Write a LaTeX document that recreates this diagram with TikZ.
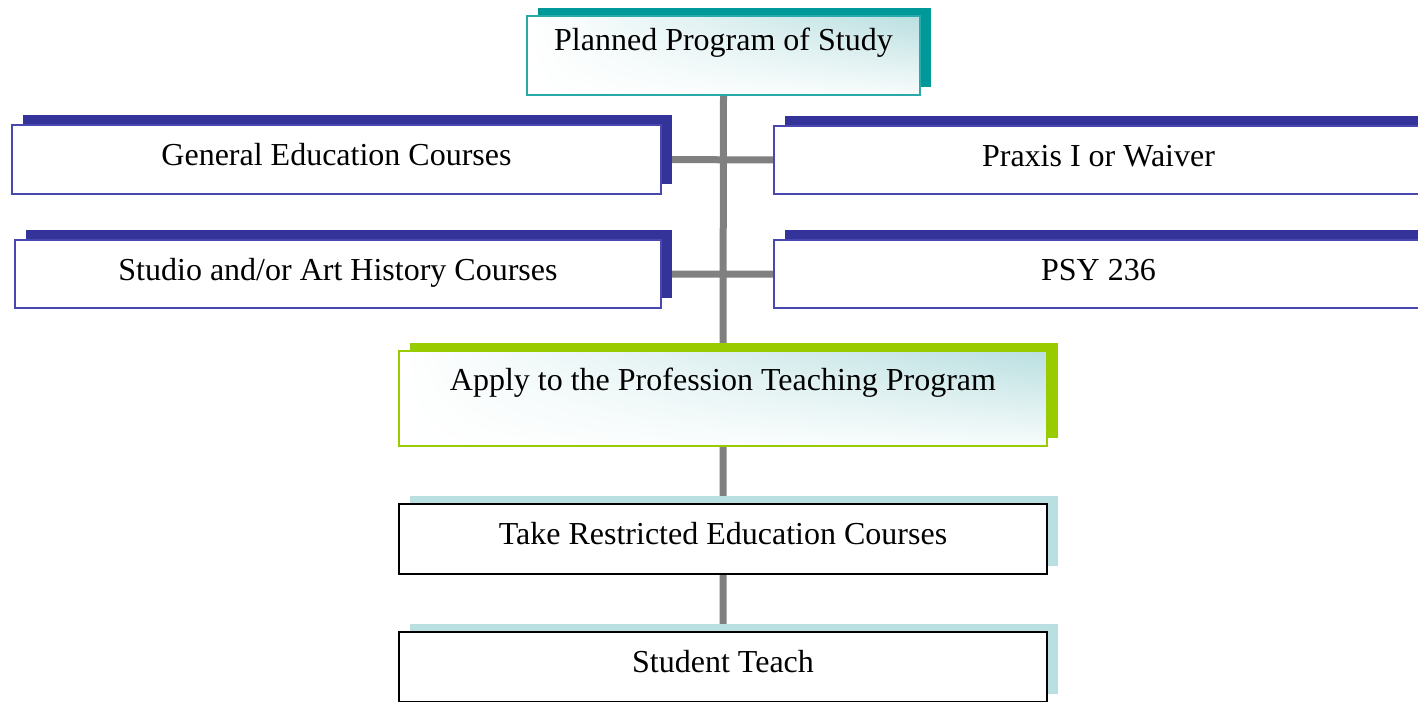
\documentclass[tikz,border=0pt]{standalone}
\usepackage{fontspec}
\setmainfont{Liberation Serif}
\usetikzlibrary{backgrounds,shadings}
\definecolor{tealshd}{RGB}{0,153,153}
\definecolor{tealline}{RGB}{40,170,170}
\definecolor{blueshd}{RGB}{51,51,153}
\definecolor{blueline}{RGB}{72,72,176}
\definecolor{greenshd}{RGB}{153,204,0}
\definecolor{paleblue}{RGB}{185,223,224}
\definecolor{connect}{RGB}{128,128,128}

\begin{document}
\begin{tikzpicture}[x=1pt,y=-1pt,
    box/.style={draw,rectangle,inner sep=0pt,outer sep=0pt,text height=22pt,font=\fontsize{32}{38}\selectfont},
    topbox/.style={box,draw=tealline,line width=1.5pt,upper left=white,lower left=white,upper right=paleblue,lower right=paleblue!10},
    sidebox/.style={box,draw=blueline,line width=1.5pt,fill=white,text depth=10pt},
    applybox/.style={box,draw=greenshd,line width=1.5pt,upper left=white,lower left=white,upper right=paleblue,lower right=paleblue!10},
    stepbox/.style={box,draw=black,line width=1.5pt,fill=white,text depth=12pt},
    conn/.style={draw=connect,line width=7pt}]
    \useasboundingbox (0,0) rectangle (1418,701);

    \node[topbox,minimum width=393pt,minimum height=79pt,text depth=31pt] at (723.5,55.5) (plan) {Planned Program of Study};
    \node[sidebox,minimum width=649pt,minimum height=69pt] at (336.5,159.5) (gen) {General Education Courses};
    \node[sidebox,minimum width=646pt,minimum height=68pt] at (338,274) (studio) {Studio and/or Art History Courses};
    \node[sidebox,minimum width=649pt,minimum height=68pt] at (1098.5,160) (praxis) {Praxis I or Waiver};
    \node[sidebox,minimum width=649pt,minimum height=68pt] at (1098.5,274) (psy) {PSY 236};
    \node[applybox,minimum width=648pt,minimum height=95pt,text depth=39pt] at (723,398.5) (apply) {Apply to the Profession Teaching Program};
    \node[stepbox,minimum width=648pt,minimum height=70pt] at (723,539) (take) {Take Restricted Education Courses};
    \node[stepbox,minimum width=648pt,minimum height=70pt] at (723,667) (stud) {Student Teach};

    \begin{scope}[on background layer]
      \draw[conn]
        (plan.south) -- (apply.north)
        (apply.south) -- (take.north)
        (take.south) -- (stud.north)
        (gen.east) -- (praxis.west)
        (studio.east) -- (psy.west);
      % offset shadows behind the boxes
      \foreach \n/\c/\dy in {plan/tealshd/8,gen/blueshd/10.5,studio/blueshd/10.5,praxis/blueshd/10.5,psy/blueshd/10.5,apply/greenshd/8,take/paleblue/8,stud/paleblue/8}
        \fill[\c] ([xshift=10.5pt,yshift=\dy pt]\n.south west) rectangle ([xshift=10.5pt,yshift=\dy pt]\n.north east);
    \end{scope}
  \end{tikzpicture}
\end{document}
